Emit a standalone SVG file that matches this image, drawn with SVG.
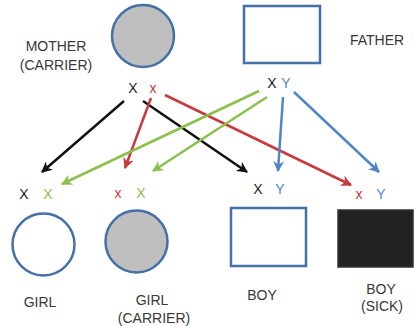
<svg xmlns="http://www.w3.org/2000/svg" width="414" height="326" viewBox="0 0 414 326">
<style>
.lbl{font-family:"Liberation Sans",Arial,sans-serif;font-size:14px;fill:#383838;text-anchor:middle}
.g{font-family:"Liberation Sans",Arial,sans-serif;font-size:14px;text-anchor:middle}
.k{fill:#1a1a1a}.r{fill:#c9393d}.gr{fill:#8cbf4e}.b{fill:#4f86c6}
.shape{stroke:#4670a8;stroke-width:2.5}
.ln{fill:none;stroke-width:2.5}
</style>
<defs>
<marker id="ak" viewBox="0 0 10 10" refX="9" refY="5" markerWidth="11" markerHeight="11" markerUnits="userSpaceOnUse" orient="auto"><path d="M0,0 L10,5 L0,10 L3,5 z" fill="#111"/></marker>
<marker id="ar" viewBox="0 0 10 10" refX="9" refY="5" markerWidth="11" markerHeight="11" markerUnits="userSpaceOnUse" orient="auto"><path d="M0,0 L10,5 L0,10 L3,5 z" fill="#c9393d"/></marker>
<marker id="ag" viewBox="0 0 10 10" refX="9" refY="5" markerWidth="11" markerHeight="11" markerUnits="userSpaceOnUse" orient="auto"><path d="M0,0 L10,5 L0,10 L3,5 z" fill="#8cbf4e"/></marker>
<marker id="ab" viewBox="0 0 10 10" refX="9" refY="5" markerWidth="11" markerHeight="11" markerUnits="userSpaceOnUse" orient="auto"><path d="M0,0 L10,5 L0,10 L3,5 z" fill="#4f86c6"/></marker>
</defs>
<rect width="414" height="326" fill="#fff"/>
<g id="mother">
<circle class="shape" cx="143" cy="36" r="31" fill="#bfbfbf"/>
<text class="lbl" x="56" y="51">MOTHER</text>
<text class="lbl" x="56" y="70">(CARRIER)</text>
<text class="g k" x="133" y="93">X</text>
<text class="g r" x="153" y="93">x</text>
</g>
<g id="father">
<rect class="shape" x="244" y="6" width="76" height="57" fill="#fff"/>
<text class="lbl" x="377" y="45">FATHER</text>
<text class="g k" x="272" y="88">X</text>
<text class="g b" x="286" y="88">Y</text>
</g>
<g id="girl">
<text class="g k" x="24" y="199">X</text>
<text class="g gr" x="48" y="199">X</text>
<circle class="shape" cx="43.5" cy="244.5" r="31" fill="#fff"/>
<text class="lbl" x="40" y="307">GIRL</text>
</g>
<g id="girl-carrier">
<text class="g r" x="118" y="198">x</text>
<text class="g gr" x="141" y="198">X</text>
<circle class="shape" cx="136.5" cy="241.5" r="31" fill="#bfbfbf"/>
<text class="lbl" x="152" y="305">GIRL</text>
<text class="lbl" x="154" y="323">(CARRIER)</text>
</g>
<g id="boy">
<text class="g k" x="258" y="194">X</text>
<text class="g b" x="280" y="194">Y</text>
<rect class="shape" x="231" y="208" width="75" height="58" fill="#fff"/>
<text class="lbl" x="262" y="300">BOY</text>
</g>
<g id="boy-sick">
<text class="g r" x="359" y="199">x</text>
<text class="g b" x="381" y="199">Y</text>
<rect x="338" y="210" width="75" height="57" fill="#222" stroke="#333" stroke-width="1.5"/>
<text class="lbl" x="381" y="294">BOY</text>
<text class="lbl" x="382" y="311">(SICK)</text>
</g>
<g id="connectors">
<line class="ln" x1="124" y1="101" x2="42" y2="172" stroke="#111" marker-end="url(#ak)"/>
<line class="ln" x1="143" y1="101" x2="247" y2="172" stroke="#111" marker-end="url(#ak)"/>
<line class="ln" x1="151" y1="98" x2="125" y2="168" stroke="#c9393d" marker-end="url(#ar)"/>
<line class="ln" x1="165" y1="95" x2="351" y2="185" stroke="#c9393d" marker-end="url(#ar)"/>
<line class="ln" x1="259" y1="91" x2="62" y2="184" stroke="#8cbf4e" marker-end="url(#ag)"/>
<line class="ln" x1="267" y1="97" x2="153" y2="171" stroke="#8cbf4e" marker-end="url(#ag)"/>
<line class="ln" x1="283" y1="97" x2="278" y2="171" stroke="#4f86c6" marker-end="url(#ab)"/>
<line class="ln" x1="294" y1="92" x2="379" y2="172" stroke="#4f86c6" marker-end="url(#ab)"/>
</g>
</svg>
